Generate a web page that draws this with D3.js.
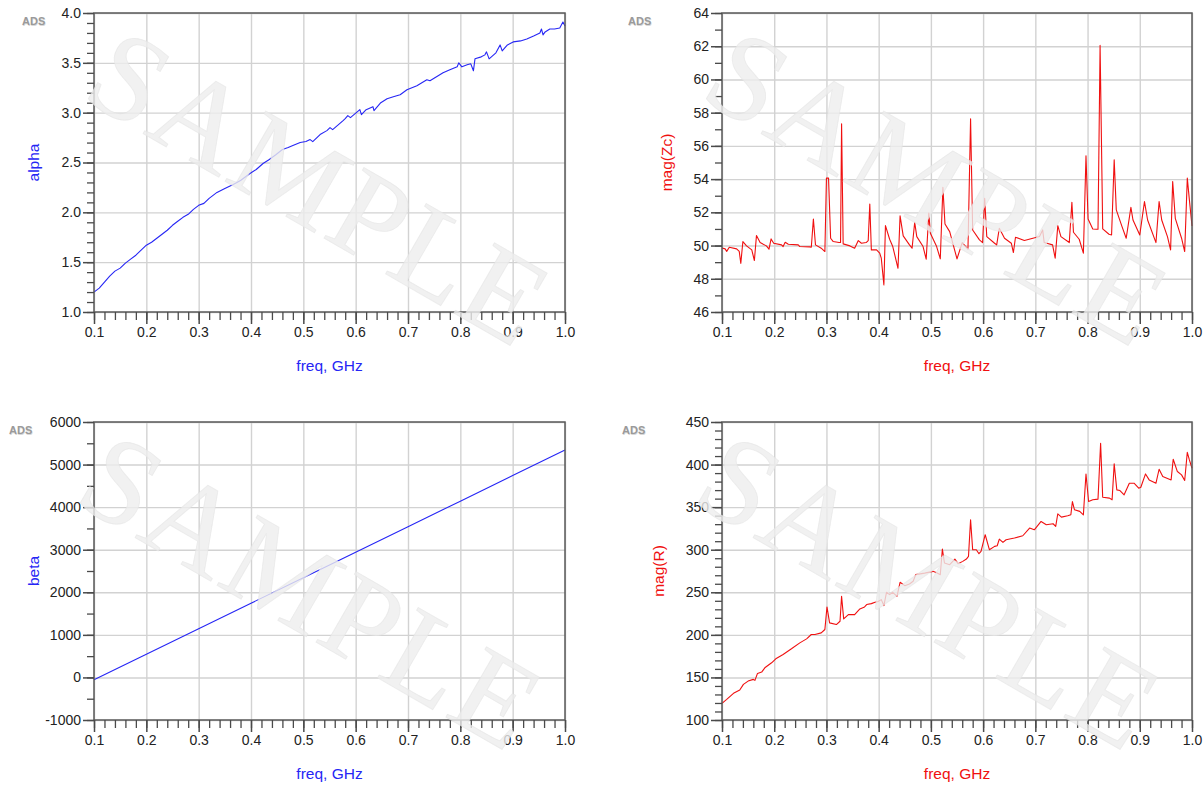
<!DOCTYPE html>
<html>
<head>
<meta charset="utf-8">
<script src="https://cdn.jsdelivr.net/npm/d3@7"></script>
<style>
  body { margin: 0; background: #fff; }
  svg { display: block; }
</style>
</head>
<body>
<svg id="chart" width="1204" height="786"></svg>
<script>
// ---------------- data ----------------
const freqTicks = [0.1, 0.2, 0.3, 0.4, 0.5, 0.6, 0.7, 0.8, 0.9, 1.0];
const alphaTicks = [1.0, 1.5, 2.0, 2.5, 3.0, 3.5, 4.0];
const zcTicks = [46, 48, 50, 52, 54, 56, 58, 60, 62, 64];
const betaTicks = [-1000, 0, 1000, 2000, 3000, 4000, 5000, 6000];
const rTicks = [100, 150, 200, 250, 300, 350, 400, 450];

const alphaFreq = [0.100,0.110,0.120,0.130,0.140,0.150,0.160,0.170,0.180,0.190,0.200,0.210,0.220,0.230,0.240,0.250,0.260,0.270,0.280,0.290,0.300,0.310,0.320,0.335,0.350,0.366,0.380,0.398,0.410,0.423,0.435,0.448,0.460,0.471,0.480,0.494,0.505,0.513,0.518,0.532,0.545,0.551,0.556,0.576,0.580,0.585,0.590,0.608,0.611,0.620,0.633,0.635,0.648,0.660,0.672,0.685,0.698,0.717,0.736,0.742,0.767,0.780,0.794,0.797,0.803,0.813,0.820,0.825,0.828,0.840,0.847,0.850,0.855,0.868,0.876,0.880,0.890,0.901,0.915,0.927,0.940,0.952,0.955,0.958,0.962,0.971,0.980,0.990,0.996,1.000];
const alphaVals = [1.20,1.24,1.30,1.36,1.41,1.44,1.49,1.53,1.57,1.62,1.67,1.70,1.74,1.78,1.82,1.87,1.91,1.95,1.98,2.03,2.07,2.09,2.14,2.20,2.24,2.28,2.32,2.39,2.43,2.49,2.53,2.58,2.63,2.65,2.67,2.70,2.71,2.73,2.71,2.78,2.82,2.85,2.83,2.92,2.94,2.97,2.95,3.03,2.98,3.03,3.06,3.02,3.10,3.14,3.16,3.18,3.23,3.27,3.33,3.32,3.40,3.43,3.46,3.50,3.46,3.48,3.49,3.42,3.54,3.56,3.58,3.61,3.54,3.60,3.68,3.62,3.68,3.71,3.72,3.74,3.77,3.80,3.84,3.78,3.81,3.84,3.84,3.85,3.91,3.87];

const betaFreq = [0.1, 0.2, 0.3, 0.4, 0.5, 0.6, 0.7, 0.8, 0.9, 1.0];
const betaVals = [-55, 544, 1144, 1743, 2343, 2942, 3542, 4141, 4741, 5340];

const zcFreq = [0.100,0.106,0.109,0.114,0.128,0.133,0.136,0.140,0.147,0.157,0.162,0.166,0.173,0.185,0.190,0.194,0.199,0.214,0.217,0.221,0.227,0.246,0.249,0.268,0.271,0.275,0.279,0.290,0.297,0.300,0.304,0.308,0.313,0.324,0.327,0.329,0.332,0.345,0.354,0.361,0.367,0.376,0.380,0.383,0.386,0.396,0.402,0.405,0.410,0.413,0.421,0.427,0.437,0.441,0.447,0.459,0.464,0.469,0.473,0.485,0.491,0.496,0.499,0.511,0.518,0.523,0.527,0.536,0.550,0.560,0.571,0.576,0.580,0.593,0.599,0.603,0.607,0.622,0.626,0.631,0.641,0.654,0.658,0.662,0.679,0.708,0.714,0.717,0.733,0.738,0.743,0.749,0.765,0.770,0.773,0.784,0.792,0.797,0.801,0.810,0.817,0.820,0.824,0.829,0.841,0.846,0.851,0.855,0.866,0.874,0.883,0.887,0.900,0.909,0.915,0.931,0.937,0.942,0.953,0.959,0.963,0.968,0.980,0.986,0.991,0.995,1.000];
const zcVals = [49.85,49.8,49.65,49.9,49.8,49.65,48.93,50.24,49.98,49.74,49.1,50.6,50.18,49.98,49.78,50.4,50.14,50.04,49.94,50.2,50.08,50.04,49.94,49.92,49.9,51.6,50.04,49.84,49.64,54.06,54.06,50.44,50.24,50.18,50.18,57.33,50.1,49.98,49.84,50.3,50.14,50.18,50.3,52.5,49.74,49.74,49.54,49.24,47.63,51.2,50.38,49.94,48.63,51.79,50.58,50.04,49.84,51.4,50.54,49.94,49.18,51.95,50.74,49.94,49.2,53.5,51.3,50.84,49.2,50.18,49.78,57.63,50.94,50.34,50.18,52.85,50.54,50.14,50.04,51.04,50.44,50.14,49.58,50.5,50.3,50.54,50.94,50.18,50.04,49.24,51.2,50.54,50.18,52.6,50.8,50.38,49.54,55.4,51.6,51.0,50.98,50.98,62.05,51.0,50.68,50.64,55.16,52.15,51.14,50.44,52.3,51.54,50.64,52.65,51.54,50.18,52.65,51.54,50.54,49.74,53.85,51.64,50.44,49.64,54.06,52.75,51.18];

const rFreq = [0.100,0.109,0.122,0.134,0.141,0.150,0.160,0.163,0.168,0.176,0.182,0.195,0.203,0.217,0.233,0.249,0.262,0.271,0.278,0.290,0.297,0.301,0.306,0.319,0.326,0.329,0.333,0.342,0.354,0.364,0.373,0.377,0.386,0.393,0.399,0.405,0.410,0.415,0.421,0.427,0.435,0.441,0.450,0.459,0.466,0.471,0.488,0.504,0.512,0.518,0.522,0.526,0.536,0.546,0.552,0.561,0.568,0.572,0.576,0.580,0.587,0.592,0.596,0.604,0.612,0.622,0.627,0.631,0.638,0.644,0.660,0.676,0.689,0.698,0.711,0.721,0.734,0.739,0.743,0.750,0.762,0.768,0.771,0.775,0.785,0.792,0.797,0.802,0.810,0.820,0.825,0.829,0.842,0.847,0.851,0.856,0.862,0.870,0.880,0.889,0.898,0.902,0.911,0.918,0.931,0.937,0.944,0.960,0.964,0.972,0.980,0.986,0.991,0.995,1.000];
const rVals = [119.5,124.2,131.3,135.2,141.8,145.7,147.7,146.5,154.7,156.3,161.3,167.2,171.9,177,183.6,190.6,195.3,200.4,200.4,202.3,206.3,232.8,214.1,212.1,216,245.3,218.8,223.8,223.8,230.5,232.8,235.6,236.7,238.3,239.1,241.4,234.4,250,247.3,250,245.3,261.7,257.8,259.8,262.9,270.7,272.5,274.6,272.7,270.7,300.8,284.4,282.4,289,283.6,286.3,289,292.2,335.2,300,300,295.3,298,317.6,300,303.9,304.7,312.5,308.6,311.7,313.7,316.4,325.4,323.4,333.2,329.3,330.5,327.4,342.2,338.3,339.8,341,356.6,346.9,345,341,389,356.6,358.6,359.4,425,361.7,360.6,358.6,400.8,370.3,369.5,364.5,378.1,378.1,372.3,373.4,389,382,378.1,394.5,385.9,382,406.3,391.8,387.9,381.3,414.4,405.5,395.7];

// ---------------- drawing ----------------
const svg = d3.select("#chart");
const SANS = "'Liberation Sans', Arial, Helvetica, sans-serif";
const SERIF = "'Liberation Serif', 'Times New Roman', serif";
const BLUE = "#2626f5", RED = "#f01010";
const hyphenFmt = f => (d => f(d).replace("\u2212", "-"));

const panels = [
  { left: 94,  right: 565,  top: 13,  bottom: 312, freq: alphaFreq, vals: alphaVals, yTicks: alphaTicks, yMinor: 0.1,  fmt: hyphenFmt(d3.format(".1f")), ylabel: "alpha",   color: BLUE, ylabX: 35,  ads: [22, 25],  wm: [320, 188] },
  { left: 722, right: 1192, top: 13,  bottom: 312, freq: zcFreq,    vals: zcVals,    yTicks: zcTicks,    yMinor: 1,    fmt: hyphenFmt(d3.format("d")),   ylabel: "mag(Zc)", color: RED,  ylabX: 668, ads: [628, 25], wm: [938, 188] },
  { left: 94,  right: 565,  top: 422, bottom: 720, freq: betaFreq,  vals: betaVals,  yTicks: betaTicks,  yMinor: 500,  fmt: hyphenFmt(d3.format("d")),   ylabel: "beta",    color: BLUE, ylabX: 35,  ads: [9, 434],  wm: [312, 592] },
  { left: 722, right: 1192, top: 422, bottom: 720, freq: rFreq,     vals: rVals,     yTicks: rTicks,     yMinor: 10,   fmt: hyphenFmt(d3.format("d")),   ylabel: "mag(R)",  color: RED,  ylabX: 660, ads: [622, 434], wm: [930, 592] }
];

const wmLayer = [];

panels.forEach(p => {
  const x = d3.scaleLinear().domain([0.1, 1.0]).range([p.left, p.right]);
  const y = d3.scaleLinear().domain([p.yTicks[0], p.yTicks[p.yTicks.length - 1]]).range([p.bottom, p.top]);
  const w = p.right - p.left, h = p.bottom - p.top;
  const g = svg.append("g");

  // grid
  g.append("g").attr("transform", `translate(0,${p.bottom})`)
    .call(d3.axisBottom(x).tickValues(freqTicks).tickSize(-h).tickFormat(""))
    .call(s => { s.select(".domain").remove(); s.selectAll("line").attr("stroke", "#d2d2d2").attr("stroke-width", 1.4); });
  g.append("g").attr("transform", `translate(${p.left},0)`)
    .call(d3.axisLeft(y).tickValues(p.yTicks).tickSize(-w).tickFormat(""))
    .call(s => { s.select(".domain").remove(); s.selectAll("line").attr("stroke", "#d2d2d2").attr("stroke-width", 1.4); });

  // data line
  const pts = p.freq.map((f, i) => [f, p.vals[i]]);
  g.append("path").datum(pts)
    .attr("fill", "none").attr("stroke", p.color).attr("stroke-width", 1.1)
    .attr("stroke-linejoin", "round")
    .attr("d", d3.line().x(d => x(d[0])).y(d => y(d[1])));

  // frame
  g.append("rect").attr("x", p.left).attr("y", p.top).attr("width", w).attr("height", h)
    .attr("fill", "none").attr("stroke", "#5a5a5a").attr("stroke-width", 1.5);

  // minor ticks
  const y0 = p.yTicks[0], y1 = p.yTicks[p.yTicks.length - 1];
  const yMinorVals = d3.range(Math.round((y1 - y0) / p.yMinor) + 1).map(i => y0 + i * p.yMinor);
  const xMinorVals = d3.range(46).map(i => 0.1 + i * 0.02);
  g.append("g").attr("transform", `translate(${p.left},0)`)
    .call(d3.axisLeft(y).tickValues(yMinorVals).tickSize(7).tickFormat(""))
    .call(s => { s.select(".domain").remove(); s.selectAll("line").attr("stroke", "#4a4a4a").attr("stroke-width", 1.3); });
  g.append("g").attr("transform", `translate(0,${p.bottom})`)
    .call(d3.axisBottom(x).tickValues(xMinorVals).tickSize(8).tickFormat(""))
    .call(s => { s.select(".domain").remove(); s.selectAll("line").attr("stroke", "#4a4a4a").attr("stroke-width", 1.3); });

  // major ticks + labels
  g.append("g").attr("transform", `translate(${p.left},0)`)
    .call(d3.axisLeft(y).tickValues(p.yTicks).tickSize(11).tickPadding(2).tickFormat(p.fmt))
    .call(s => {
      s.select(".domain").remove();
      s.selectAll("line").attr("stroke", "#4a4a4a").attr("stroke-width", 1.5);
      s.selectAll("text").attr("fill", "#222").style("font-size", "14px").style("font-family", SANS);
    });
  g.append("g").attr("transform", `translate(0,${p.bottom})`)
    .call(d3.axisBottom(x).tickValues(freqTicks).tickSize(12).tickPadding(3).tickFormat(d3.format(".1f")))
    .call(s => {
      s.select(".domain").remove();
      s.selectAll("line").attr("stroke", "#4a4a4a").attr("stroke-width", 1.5);
      s.selectAll("text").attr("fill", "#222").style("font-size", "14px").style("font-family", SANS);
    });

  // axis titles
  g.append("text").attr("x", (p.left + p.right) / 2).attr("y", p.bottom + 59)
    .attr("text-anchor", "middle").attr("fill", p.color)
    .style("font-family", SANS).style("font-size", "15.5px").text("freq, GHz");
  g.append("text").attr("transform", `translate(${p.ylabX},${(p.top + p.bottom) / 2}) rotate(-90)`)
    .attr("text-anchor", "middle").attr("dominant-baseline", "middle")
    .attr("fill", p.color).style("font-family", SANS).style("font-size", "15.5px").text(p.ylabel);

  // ADS tag
  g.append("text").attr("x", p.ads[0] + 0.6).attr("y", p.ads[1] + 0.6).attr("fill", "#d8d8d8")
    .style("font-family", SANS).style("font-size", "11px").style("font-weight", "bold").text("ADS");
  g.append("text").attr("x", p.ads[0]).attr("y", p.ads[1]).attr("fill", "#9a9a9a")
    .style("font-family", SANS).style("font-size", "11px").style("font-weight", "bold").text("ADS");

  wmLayer.push(p.wm);
});

// watermarks on top
svg.append("g").selectAll("text").data(wmLayer).join("text")
  .attr("transform", d => `translate(${d[0]},${d[1]}) rotate(30)`)
  .attr("text-anchor", "middle").attr("dominant-baseline", "central")
  .style("font-family", SERIF).style("font-size", "124px").style("letter-spacing", "3px")
  .attr("fill", "#eeeeee").attr("fill-opacity", 0.8)
  .attr("stroke", "#e2e2e2").attr("stroke-opacity", 0.6).attr("stroke-width", 0.8)
  .text("SAMPLE");
</script>
</body>
</html>
